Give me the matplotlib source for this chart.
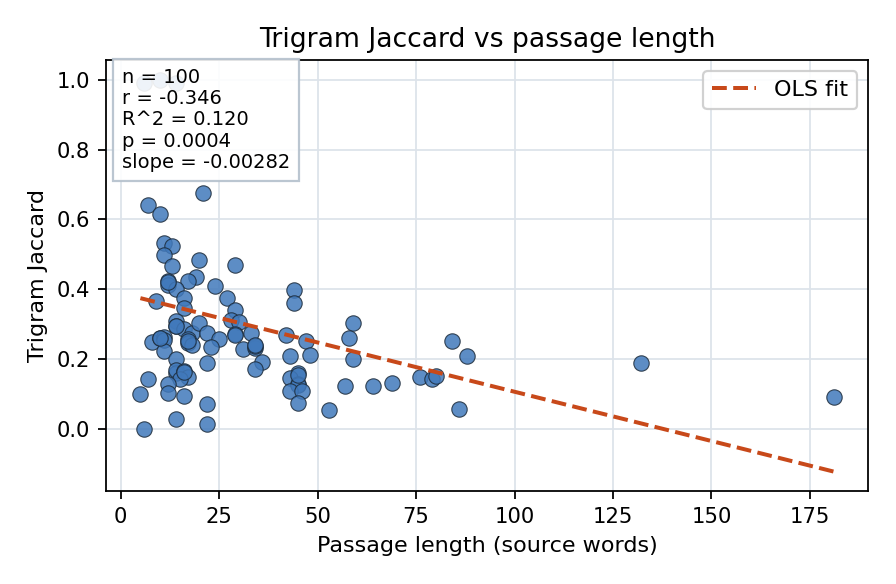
import numpy as np
import matplotlib
matplotlib.use("Agg")
import matplotlib.pyplot as plt

# passage length (source words) and trigram Jaccard values
length = [
    6, 10, 14,
    21, 7, 10, 11, 13, 11, 13, 20, 29, 19, 12, 12, 17, 24, 14, 16, 9, 27, 16, 29, 44, 44,
    14, 14, 16, 18, 20, 22, 25, 23, 17, 17, 18, 8, 10, 11, 11, 11, 14, 22, 28, 30, 29, 33,
    31, 34, 34, 36, 34, 42, 47, 43, 48, 59, 58, 59, 84, 88, 132,
    14, 14, 16, 17, 15, 12, 12, 7, 5, 16, 22, 14, 22, 6, 45, 43, 45, 45, 43, 46, 45, 53,
    57, 64, 69, 76, 79, 80, 86, 181,
    14, 17, 10, 16, 45, 34, 12, 29,
]
jaccard = [
    0.990, 1.000, 0.990,
    0.676, 0.642, 0.616, 0.533, 0.524, 0.499, 0.467, 0.484, 0.470, 0.436, 0.424, 0.413,
    0.424, 0.410, 0.401, 0.375, 0.367, 0.375, 0.347, 0.341, 0.398, 0.361,
    0.309, 0.295, 0.287, 0.275, 0.304, 0.275, 0.258, 0.235, 0.258, 0.246, 0.241, 0.249,
    0.261, 0.264, 0.255, 0.223, 0.201, 0.189, 0.312, 0.307, 0.272, 0.275,
    0.229, 0.233, 0.238, 0.192, 0.172, 0.269, 0.252, 0.209, 0.212, 0.304, 0.261, 0.201,
    0.252, 0.209, 0.189,
    0.160, 0.169, 0.166, 0.149, 0.143, 0.129, 0.103, 0.143, 0.100, 0.095, 0.072, 0.029,
    0.014, 0.000, 0.160, 0.146, 0.129, 0.126, 0.109, 0.109, 0.074, 0.054,
    0.123, 0.123, 0.132, 0.149, 0.143, 0.152, 0.057, 0.092,
    0.296, 0.252, 0.262, 0.164, 0.155, 0.240, 0.420, 0.270,
]

# OLS fit values shown in the chart
fit_slope = -0.00282
fit_intercept = 0.389
stats_lines = ["n = 100", "r = -0.346", "R^2 = 0.120", "p = 0.0004", "slope = -0.00282"]

x = np.array(length, dtype=float)
y = np.array(jaccard, dtype=float)

fig = plt.figure(figsize=(5.6, 3.65), dpi=160)
ax = fig.add_axes([0.118, 0.159, 0.851, 0.738])

ax.grid(True, color="#dde3ea", linewidth=0.8)
ax.set_axisbelow(True)

ax.scatter(x, y, s=48, color="#4179bb", alpha=0.85, edgecolors="#1c2b3a",
           linewidths=0.5, zorder=3)

xs = np.array([x.min(), x.max()])
ax.plot(xs, fit_intercept + fit_slope * xs, linestyle="--", color="#c8491a",
        linewidth=1.8, label="OLS fit", zorder=4)

ax.set_title("Trigram Jaccard vs passage length", fontsize=12)
ax.set_xlabel("Passage length (source words)", fontsize=10)
ax.set_ylabel("Trigram Jaccard", fontsize=10)
ax.tick_params(labelsize=9.5)

ax.legend(loc="upper right", fontsize=10, framealpha=0.9)

ax.text(0.021, 0.982, "\n".join(stats_lines), transform=ax.transAxes,
        va="top", ha="left", fontsize=8.8, zorder=5, linespacing=1.15,
        bbox=dict(boxstyle="square,pad=0.45", facecolor="white",
                  edgecolor="#b4c0cc", alpha=0.9))

fig.savefig("out.png", dpi=160)
